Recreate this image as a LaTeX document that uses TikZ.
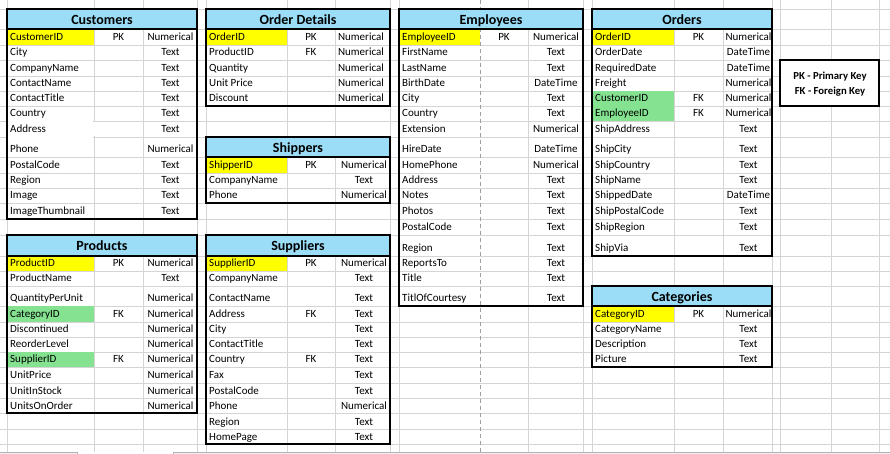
\documentclass[tikz,border=0pt]{standalone}
\usepackage{fontspec}
\setmainfont{Carlito}
\usepackage{tikz}
\definecolor{titleblue}{HTML}{9BDDF7}
\definecolor{keyyellow}{HTML}{FFFF00}
\definecolor{keygreen}{HTML}{84E290}
\definecolor{sheetgray}{HTML}{D5D5D5}
\definecolor{tabgray}{HTML}{F0F0F0}
\newcommand{\cellfont}{\fontsize{11bp}{13bp}\selectfont}
\newcommand{\titlefont}{\fontsize{14bp}{16bp}\selectfont\bfseries}
\newcommand{\legendfont}{\fontsize{10.7bp}{12bp}\selectfont\bfseries}

\begin{document}
\begin{tikzpicture}[x=1bp,y=-1bp,
    sheet/.style={draw=sheetgray,line width=0.8bp},
    pagebreak/.style={draw=gray!75,line width=0.8bp,dash pattern=on 4bp off 3bp},
    tablebox/.style={line width=2bp},
    fld/.style={anchor=base west,inner sep=0pt,font=\cellfont},
    typ/.style={anchor=base,inner sep=0pt,font=\cellfont},
    ttl/.style={anchor=base,inner sep=0pt,font=\titlefont},
    legend/.style={anchor=base,inner sep=0pt,font=\legendfont}]
          \useasboundingbox (0,0) rectangle (890,454);
          \fill[white] (0,0) rectangle (890,454);
          \foreach \x in {7,94,143,197,206,287,335,390,399,528,583,592,674,723,772,780,831,879}
            \draw[sheet] (\x,0) -- (\x,452);
          \foreach \y in {9,29,45,60,76,91,106,121,137,157,173,188,203,219,235,256,271,286,306,322,337,352,367,383,398,413,429,444}
            \draw[sheet] (0,\y) -- (890,\y);
          \draw[pagebreak] (480,0) -- (480,452);
          \filldraw[fill=tabgray,draw=gray!60] (-2,452) rectangle (77,458);
          \filldraw[fill=tabgray,draw=gray!60] (173,452) rectangle (892,458);
          \fill[white] (8,107.5) rectangle (93.4,155.6);
          \fill[white] (93,122) rectangle (95,136);
          \foreach \a/\b/\c/\d in {7/197/9/29,206/390/9/29,399/583/9/29,592/772/9/29,206/390/137/157,592/772/286/306,7/197/235/256,206/390/235/256}
            \fill[titleblue] (\a,\c) rectangle (\b,\d);
          \foreach \a/\b/\c/\d in {7/94/29/45,206/287/29/45,399/480/29/45,592/674/29/45,206/287/157/173,592/674/306/322,7/94/256/271,206/287/256/271}
            \fill[keyyellow] (\a,\c) rectangle (\b,\d);
          \foreach \a/\b/\c/\d in {592/674/91/121,7/94/306/322,7/94/352/367}
            \fill[keygreen] (\a,\c) rectangle (\b,\d);
          \node[ttl] (customers) at (102,24.5) {Customers};
          \node[ttl] (orderdetails) at (298,24.5) {Order Details};
          \node[ttl] (employees) at (491,24.5) {Employees};
          \node[ttl] (orders) at (682,24.5) {Orders};
          \node[ttl] (shippers) at (298,152.5) {Shippers};
          \node[ttl] (categories) at (682,301.5) {Categories};
          \node[ttl] (products) at (102,251) {Products};
          \node[ttl] (suppliers) at (298,251) {Suppliers};
          \foreach \f/\tp/\y [count=\i] in {CustomerID/Numerical/45,City/Text/60,CompanyName/Text/76,ContactName/Text/91,ContactTitle/Text/106,Country/Text/121,Address/Text/137,Phone/Numerical/157,PostalCode/Text/173,Region/Text/188,Image/Text/203,ImageThumbnail/Text/219}{
            \node[fld] (cust-f\i) at (10,\y-4) {\f};
            \node[typ] (cust-t\i) at (170.5,\y-4) {\tp};}
          \foreach \f/\tp/\y [count=\i] in {OrderID/Numerical/45,ProductID/Numerical/60,Quantity/Numerical/76,Unit Price/Numerical/91,Discount/Numerical/106}{
            \node[fld] (det-f\i) at (209,\y-4) {\f};
            \node[typ] (det-t\i) at (361,\y-4) {\tp};}
          \foreach \f/\tp/\y [count=\i] in {ShipperID/Numerical/173,CompanyName/Text/188,Phone/Numerical/203}{
            \node[fld] (ship-f\i) at (209,\y-4) {\f};
            \node[typ] (ship-t\i) at (364,\y-4) {\tp};}
          \foreach \f/\tp/\y [count=\i] in {EmployeeID/Numerical/45,FirstName/Text/60,LastName/Text/76,BirthDate/DateTime/91,City/Text/106,Country/Text/121,Extension/Numerical/137,HireDate/DateTime/157,HomePhone/Numerical/173,Address/Text/188,Notes/Text/203,Photos/Text/219,PostalCode/Text/235,Region/Text/256,ReportsTo/Text/271,Title/Text/286,TitlOfCourtesy/Text/306}{
            \node[fld] (emp-f\i) at (402,\y-4) {\f};
            \node[typ] (emp-t\i) at (556,\y-4) {\tp};}
          \foreach \f/\tp/\y [count=\i] in {OrderID/Numerical/45,OrderDate/DateTime/60,RequiredDate/DateTime/76,Freight/Numerical/91,CustomerID/Numerical/106,EmployeeID/Numerical/121,ShipAddress/Text/137,ShipCity/Text/157,ShipCountry/Text/173,ShipName/Text/188,ShippedDate/DateTime/203,ShipPostalCode/Text/219,ShipRegion/Text/235,ShipVia/Text/256}{
            \node[fld] (ord-f\i) at (595,\y-4) {\f};
            \node[typ] (ord-t\i) at (748.5,\y-4) {\tp};}
          \foreach \f/\tp/\y [count=\i] in {CategoryID/Numerical/322,CategoryName/Text/337,Description/Text/352,Picture/Text/367}{
            \node[fld] (cat-f\i) at (595,\y-4) {\f};
            \node[typ] (cat-t\i) at (748.5,\y-4) {\tp};}
          \foreach \f/\tp/\y [count=\i] in {ProductID/Numerical/271,ProductName/Text/286,QuantityPerUnit/Numerical/306,CategoryID/Numerical/322,Discontinued/Numerical/337,ReorderLevel/Numerical/352,SupplierID/Numerical/367,UnitPrice/Numerical/383,UnitInStock/Numerical/398,UnitsOnOrder/Numerical/413}{
            \node[fld] (prod-f\i) at (10,\y-4) {\f};
            \node[typ] (prod-t\i) at (170.5,\y-4) {\tp};}
          \foreach \f/\tp/\y [count=\i] in {SupplierID/Numerical/271,CompanyName/Text/286,ContactName/Text/306,Address/Text/322,City/Text/337,ContactTitle/Text/352,Country/Text/367,Fax/Text/383,PostalCode/Text/398,Phone/Numerical/413,Region/Text/429,HomePage/Text/444}{
            \node[fld] (sup-f\i) at (209,\y-4) {\f};
            \node[typ] (sup-t\i) at (364,\y-4) {\tp};}
          \foreach \kk/\x/\y [count=\i] in {PK/118.5/45,PK/311/45,FK/311/60,PK/504/45,PK/698.5/45,FK/698.5/106,FK/698.5/121,PK/311/173,PK/698.5/322,PK/118.5/271,FK/118.5/322,FK/118.5/367,PK/311/271,FK/311/322,FK/311/367}
            \node[typ] (key\i) at (\x,\y-4) {\kk};
          \foreach \a/\b/\c/\d/\e in {7/197/9/29/219,206/390/9/29/106,206/390/137/157/203,399/583/9/29/306,592/772/9/29/256,592/772/286/306/367,7/197/235/256/413,206/390/235/256/444}{
            \draw[tablebox] (\a,\c) rectangle (\b,\e);
            \draw[tablebox] (\a,\d) -- (\b,\d);}
          \filldraw[fill=white,tablebox] (780,60) rectangle (879,106);
          \node[legend] (pk) at (830,79.5) {PK - Primary Key};
          \node[legend] (fk) at (830,94.5) {FK - Foreign Key};
        \end{tikzpicture}
\end{document}
